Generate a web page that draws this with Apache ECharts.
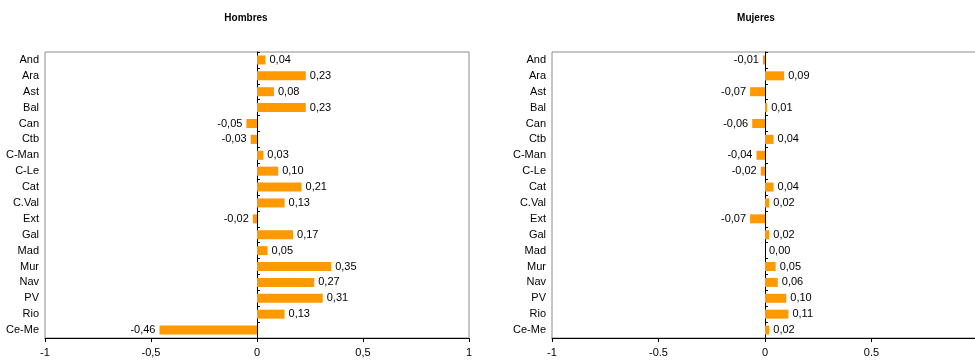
<!DOCTYPE html>
<html>
<head>
<meta charset="utf-8">
<script src="https://cdn.jsdelivr.net/npm/echarts@6/dist/echarts.min.js"></script>
<style>html,body{margin:0;padding:0;background:#fff;}#c{width:975px;height:362px;}</style>
</head>
<body>
<div id="c"></div>
<script>
const categories = ["And","Ara","Ast","Bal","Can","Ctb","C-Man","C-Le","Cat","C.Val","Ext","Gal","Mad","Mur","Nav","PV","Rio","Ce-Me"];
const hombres = [0.04,0.23,0.08,0.23,-0.05,-0.03,0.03,0.10,0.21,0.13,-0.02,0.17,0.05,0.35,0.27,0.31,0.13,-0.46];
const mujeres = [-0.01,0.09,-0.07,0.01,-0.06,0.04,-0.04,-0.02,0.04,0.02,-0.07,0.02,0.00,0.05,0.06,0.10,0.11,0.02];
const titles = ["Hombres","Mujeres"];
const ticksLeft = {"-1":"-1","-0.5":"-0,5","0":"0","0.5":"0,5","1":"1"};
const ticksRight = {"-1":"-1","-0.5":"-0.5","0":"0","0.5":"0.5","1":""};

const FONT = "Liberation Sans, Arial, sans-serif";
const ORANGE = "#FF9900";
const fmt = v => v.toFixed(2).replace(".", ",");

function mkData(arr){
  return arr.map(v => ({value: v, label: {position: v < 0 ? "left" : "right"}}));
}

const chart = echarts.init(document.getElementById("c"), null, {renderer: "canvas"});
const grids = [
  {left: 45, width: 424, top: 52, bottom: 24},
  {left: 552, width: 426, top: 52, bottom: 24}
];
const option = {
  animation: false,
  backgroundColor: "#fff",
  title: [
    {text: titles[0], left: 241, top: 8, textAlign: "center", textStyle: {fontFamily: FONT, fontSize: 10, fontWeight: "bold", color: "#000"}},
    {text: titles[1], left: 751, top: 8, textAlign: "center", textStyle: {fontFamily: FONT, fontSize: 10, fontWeight: "bold", color: "#000"}}
  ],
  grid: grids.map(g => Object.assign({show: true, borderColor: "#8c8c8c", borderWidth: 1, backgroundColor: "transparent", containLabel: false, outerBoundsMode: "none"}, g)),
  xAxis: [0,1].map(i => ({
    type: "value", gridIndex: i, min: -1, max: 1, interval: 0.5,
    splitLine: {show: false},
    axisLine: {show: true, onZero: false, lineStyle: {color: "#000", width: 1}},
    axisTick: {show: true, length: 4, lineStyle: {color: "#000"}},
    axisLabel: {
      fontFamily: FONT, fontSize: 11, color: "#000", margin: 9,
      formatter: v => (i === 0 ? ticksLeft : ticksRight)[String(v)]
    }
  })),
  yAxis: [
    ...[0,1].map(i => ({
      type: "category", gridIndex: i, data: categories, inverse: true,
      axisLine: {show: false, onZero: false}, axisTick: {show: false},
      axisLabel: {fontFamily: FONT, fontSize: 11, color: "#000", margin: 6}
    })),
    ...[0,1].map(i => ({
      type: "category", gridIndex: i, data: categories, inverse: true,
      axisLine: {show: true, onZero: true, lineStyle: {color: "#000", width: 1}},
      axisTick: {show: true, length: 3, lineStyle: {color: "#000"}},
      axisLabel: {show: false}
    }))
  ],
  series: [
    {type: "bar", xAxisIndex: 0, yAxisIndex: 0, data: mkData(hombres), barWidth: 9,
     itemStyle: {color: ORANGE},
     label: {show: true, distance: 4, fontFamily: FONT, fontSize: 11, color: "#000", formatter: p => fmt(p.value)}},
    {type: "bar", xAxisIndex: 1, yAxisIndex: 1, data: mkData(mujeres), barWidth: 9,
     itemStyle: {color: ORANGE},
     label: {show: true, distance: 4, fontFamily: FONT, fontSize: 11, color: "#000", formatter: p => fmt(p.value)}}
  ]
};
chart.setOption(option);
</script>
</body>
</html>
